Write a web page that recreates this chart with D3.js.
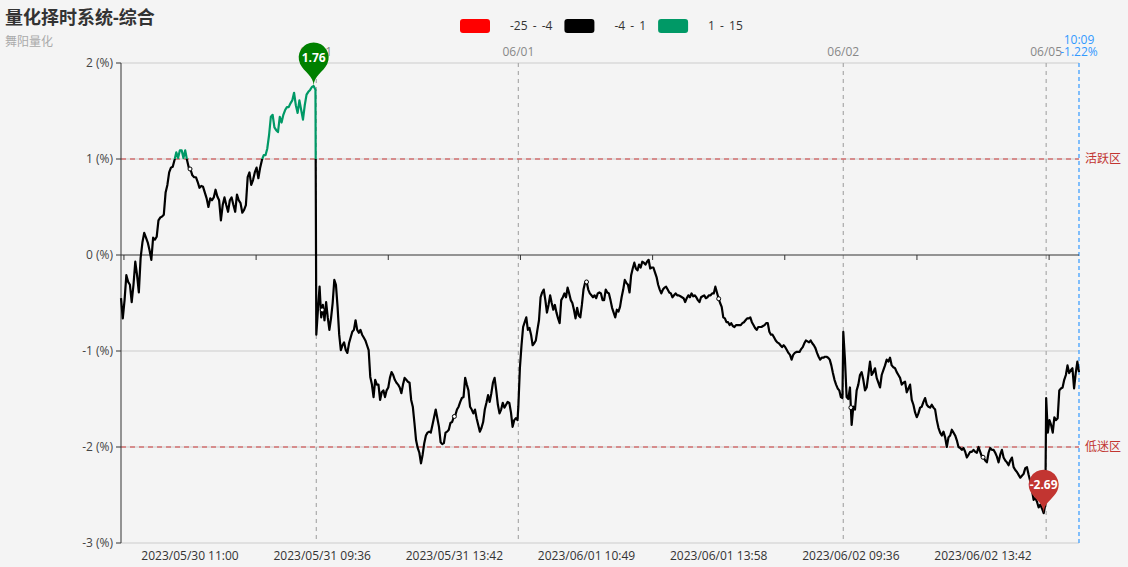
<!DOCTYPE html>
<html>
<head>
<meta charset="utf-8">
<script src="https://cdn.jsdelivr.net/npm/d3@7"></script>
<style>
  html, body { margin: 0; padding: 0; background: #f4f4f4; }
  svg { display: block; font-family: "Open Sans", "Noto Sans CJK SC", sans-serif; }
</style>
</head>
<body>
<svg id="chart" width="1128" height="567"></svg>
<script>
// trading days shown on the top axis, and how many minute points each day holds
const dayNames = ['05/30', '05/31', '06/01', '06/02', '06/05']
const dayCounts = [232, 240, 386, 241, 40]

// index values (%), one array per day
const day0530 = [-0.45, -0.66, -0.47, -0.21, -0.28, -0.31, -0.49, -0.31, -0.07, -0.21,
  -0.39, -0.03, 0.13, 0.23, 0.18, 0.13, 0.05, -0.05, 0.18, 0.16,
  0.19, 0.36, 0.39, 0.40, 0.42, 0.65, 0.73, 0.86, 0.91, 0.92,
  0.99, 1.07, 1.01, 1.09, 1.09, 1.01, 1.09, 0.99, 0.91, 0.89,
  0.83, 0.81, 0.81, 0.76, 0.70, 0.72, 0.71, 0.65, 0.59, 0.50,
  0.59, 0.57, 0.60, 0.68, 0.61, 0.57, 0.36, 0.52, 0.60, 0.52,
  0.45, 0.57, 0.60, 0.52, 0.45, 0.63, 0.57, 0.54, 0.44, 0.47,
  0.52, 0.81, 0.86, 0.73, 0.78, 0.86, 0.91, 0.80, 0.91, 0.99,
  1.04, 1.04, 1.11, 1.25, 1.44, 1.46, 1.33, 1.30, 1.28, 1.44,
  1.38, 1.46, 1.51, 1.54, 1.54, 1.58, 1.61, 1.69, 1.56, 1.48,
  1.61, 1.51, 1.41, 1.56, 1.67, 1.70, 1.72, 1.75, 1.76, 1.72]

const day0531 = [-0.83, -0.57, -0.33, -0.65, -0.52, -0.68, -0.49, -0.65, -0.78, -0.66,
  -0.50, -0.26, -0.31, -0.54, -0.83, -0.99, -0.94, -0.91, -0.99, -1.02,
  -0.92, -0.86, -0.80, -0.78, -0.68, -0.78, -0.81, -0.78, -0.83, -0.86,
  -0.89, -0.94, -0.99, -1.27, -1.35, -1.48, -1.30, -1.35, -1.35, -1.51,
  -1.43, -1.41, -1.48, -1.41, -1.38, -1.28, -1.22, -1.25, -1.30, -1.33,
  -1.35, -1.38, -1.44, -1.35, -1.28, -1.30, -1.32, -1.33, -1.51, -1.58,
  -1.75, -1.93, -2.01, -2.06, -2.17, -2.08, -1.96, -1.88, -1.85, -1.84,
  -1.85, -1.77, -1.69, -1.61, -1.70, -1.79, -1.95, -1.97, -1.96, -1.85,
  -1.84, -1.82, -1.75, -1.74, -1.69, -1.67, -1.61, -1.58, -1.53, -1.49,
  -1.48, -1.28, -1.35, -1.41, -1.58, -1.61, -1.65, -1.61, -1.70, -1.77,
  -1.84, -1.80, -1.74, -1.61, -1.54, -1.46, -1.53, -1.44, -1.33, -1.28,
  -1.41, -1.56, -1.65, -1.61, -1.54, -1.59, -1.56, -1.53, -1.54, -1.64,
  -1.79, -1.72, -1.70, -1.72]

const day0601 = [-1.58, -1.17, -0.94, -0.75, -0.70, -0.65, -0.78, -0.76, -0.83, -0.94,
  -0.92, -0.89, -0.78, -0.68, -0.44, -0.39, -0.36, -0.47, -0.60, -0.52,
  -0.42, -0.50, -0.57, -0.52, -0.60, -0.66, -0.71, -0.47, -0.44, -0.40,
  -0.44, -0.34, -0.40, -0.47, -0.50, -0.57, -0.66, -0.55, -0.63, -0.65,
  -0.52, -0.36, -0.29, -0.28, -0.36, -0.40, -0.42, -0.44, -0.42, -0.45,
  -0.40, -0.39, -0.40, -0.47, -0.47, -0.36, -0.39, -0.40, -0.47, -0.55,
  -0.60, -0.65, -0.57, -0.59, -0.54, -0.44, -0.36, -0.26, -0.29, -0.31,
  -0.39, -0.21, -0.14, -0.08, -0.14, -0.16, -0.10, -0.13, -0.07, -0.08,
  -0.10, -0.07, -0.05, -0.14, -0.13, -0.13, -0.18, -0.23, -0.31, -0.36,
  -0.40, -0.36, -0.34, -0.33, -0.36, -0.39, -0.40, -0.44, -0.42, -0.40,
  -0.42, -0.42, -0.43, -0.44, -0.45, -0.49, -0.45, -0.42, -0.44, -0.40,
  -0.43, -0.42, -0.44, -0.47, -0.49, -0.44, -0.43, -0.42, -0.45, -0.44,
  -0.42, -0.42, -0.40, -0.40, -0.33, -0.39, -0.45, -0.50, -0.54, -0.65,
  -0.66, -0.70, -0.70, -0.73, -0.71, -0.74, -0.75, -0.73, -0.73, -0.73,
  -0.73, -0.71, -0.70, -0.68, -0.66, -0.66, -0.65, -0.70, -0.73, -0.76,
  -0.78, -0.75, -0.75, -0.75, -0.74, -0.73, -0.71, -0.71, -0.80, -0.83,
  -0.83, -0.86, -0.89, -0.91, -0.92, -0.94, -0.96, -0.94, -0.96, -0.99,
  -1.02, -1.04, -1.09, -1.04, -1.02, -1.01, -1.01, -1.01, -0.98, -0.96,
  -0.92, -0.89, -0.90, -0.91, -0.89, -0.92, -0.94, -0.97, -1.02, -1.06,
  -1.09, -1.07, -1.07, -1.06, -1.06, -1.07, -1.09, -1.15, -1.23, -1.30,
  -1.35, -1.39, -1.41, -1.48, -1.49]

const day0602 = [-0.80, -1.09, -1.48, -1.50, -1.38, -1.77, -1.58, -1.61, -1.41, -1.35,
  -1.25, -1.22, -1.30, -1.41, -1.38, -1.25, -1.11, -1.25, -1.22, -1.18,
  -1.28, -1.33, -1.38, -1.25, -1.20, -1.15, -1.09, -1.11, -1.07, -1.15,
  -1.17, -1.18, -1.22, -1.25, -1.28, -1.35, -1.33, -1.32, -1.43, -1.39,
  -1.35, -1.51, -1.56, -1.64, -1.69, -1.65, -1.59, -1.58, -1.53, -1.49,
  -1.56, -1.58, -1.59, -1.56, -1.59, -1.61, -1.72, -1.80, -1.85, -1.88,
  -1.84, -1.90, -2.00, -1.90, -1.88, -1.82, -1.85, -1.88, -1.93, -2.00,
  -2.01, -2.03, -2.01, -2.05, -2.11, -2.08, -2.05, -2.05, -2.03, -2.05,
  -2.06, -2.00, -2.05, -2.10, -2.11, -2.14, -2.16, -2.06, -2.01, -2.03,
  -2.03, -2.06, -2.10, -2.16, -2.08, -2.03, -2.11, -2.14, -2.16, -2.19,
  -2.14, -2.11, -2.21, -2.24, -2.26, -2.29, -2.32, -2.30, -2.28, -2.22,
  -2.21, -2.29, -2.36, -2.45, -2.55, -2.53, -2.57, -2.63, -2.60, -2.64,
  -2.69, -2.60]

const day0605 = [-1.49, -1.85, -1.72, -1.77, -1.85, -1.69, -1.72, -1.70, -1.41, -1.39,
  -1.38, -1.30, -1.25, -1.15, -1.23, -1.20, -1.18, -1.39, -1.23, -1.11,
  -1.22]

const dayValues = [day0530, day0531, day0601, day0602, day0605]

// bottom axis labels: first label index and the step between labels
const xLabelTimes = ['2023/05/30 11:00', '2023/05/31 09:36', '2023/05/31 13:42',
  '2023/06/01 10:49', '2023/06/01 13:58', '2023/06/02 09:36', '2023/06/02 13:42']
const xLabelFirst = 82
const xLabelStep = 157
const lastTime = '10:09'

const yTicks = [2, 1, 0, -1, -2, -3]

// visualMap pieces
const pieces = [
  { min: 1, max: 15, color: '#009966' },
  { min: -4, max: 1, color: '#000000' },
  { min: -25, max: -4, color: '#ff0000' }
]
const legendPieces = [
  { label: '-25 - -4', color: '#ff0000' },
  { label: '-4 - 1', color: '#000000' },
  { label: '1 - 15', color: '#009966' }
]

const markLines = [
  { value: 1, label: '活跃区' },
  { value: -2, label: '低迷区' }
]

// ---------------------------------------------------------------

const svg = d3.select('#chart')
const W = 1128
const margin = { left: 121, right: 49, top: 63, bottom: 24 }
const plotRight = W - margin.right
const plotBottom = 567 - margin.bottom

const total = d3.sum(dayCounts)
const dayStarts = d3.cumsum([0].concat(dayCounts.slice(0, -1)))

// build points: spread each day's values over its minute slots
const points = []
dayValues.forEach((vals, d) => {
  const start = dayStarts[d]
  const span = dayCounts[d] - 1
  vals.forEach((v, j) => {
    points.push({ idx: start + j * span / (vals.length - 1), value: v })
  })
})

const x = d3.scaleLinear().domain([0, total - 1]).range([margin.left, plotRight])
const y = d3.scaleLinear().domain([-3, 2]).range([plotBottom, margin.top])

const colorOf = v => (pieces.find(p => v >= p.min && v <= p.max) || pieces[1]).color

// title
svg.append('text')
  .attr('x', 5).attr('y', 24)
  .attr('font-size', 18).attr('font-weight', 'bold').attr('fill', '#333')
  .text('量化择时系统-综合')
svg.append('text')
  .attr('x', 5).attr('y', 46)
  .attr('font-size', 12).attr('fill', '#aaa')
  .text('舞阳量化')

// legend (visualMap pieces)
const legend = svg.append('g').attr('transform', 'translate(460, 19)')
let lx = 0
legendPieces.forEach(p => {
  legend.append('rect')
    .attr('x', lx).attr('y', 0).attr('width', 30).attr('height', 14)
    .attr('rx', 3).attr('fill', p.color)
  const t = legend.append('text')
    .attr('x', lx + 50).attr('y', 7).attr('dy', '0.35em')
    .attr('font-size', 12).attr('fill', '#333')
    .attr('word-spacing', 2)
    .text(p.label)
  lx += 50 + t.node().getComputedTextLength() + 12
})

// horizontal grid
svg.append('g')
  .selectAll('line')
  .data(yTicks.filter(t => t !== 0))
  .enter()
  .append('line')
  .attr('x1', margin.left).attr('x2', plotRight)
  .attr('y1', d => y(d)).attr('y2', d => y(d))
  .attr('stroke', '#ccc').attr('stroke-width', 1)

// day separators (top axis split lines)
const dayIdx = dayStarts.slice(1)
svg.append('g')
  .selectAll('line')
  .data(dayIdx)
  .enter()
  .append('line')
  .attr('x1', d => x(d)).attr('x2', d => x(d))
  .attr('y1', margin.top).attr('y2', plotBottom)
  .attr('stroke', '#aaa').attr('stroke-width', 1.2)
  .attr('stroke-dasharray', '4,4')

// top day labels
svg.append('g')
  .selectAll('text')
  .data(dayIdx)
  .enter()
  .append('text')
  .attr('x', d => x(d)).attr('y', 52).attr('dy', '0.35em')
  .attr('text-anchor', 'middle').attr('font-size', 12).attr('fill', '#888')
  .text((d, i) => dayNames[i + 1])

// last point marker line
const lastPoint = points[points.length - 1]
svg.append('line')
  .attr('x1', x(lastPoint.idx)).attr('x2', x(lastPoint.idx))
  .attr('y1', margin.top).attr('y2', plotBottom)
  .attr('stroke', '#3399ff').attr('stroke-width', 1.2)
  .attr('stroke-dasharray', '4,3')
svg.append('text')
  .attr('x', x(lastPoint.idx)).attr('y', 40).attr('dy', '0.35em')
  .attr('text-anchor', 'middle').attr('font-size', 12).attr('fill', '#3399ff')
  .text(lastTime)
svg.append('text')
  .attr('x', x(lastPoint.idx)).attr('y', 52).attr('dy', '0.35em')
  .attr('text-anchor', 'middle').attr('font-size', 12).attr('fill', '#3399ff')
  .text(lastPoint.value.toFixed(2) + '%')

// mark lines
markLines.forEach(m => {
  svg.append('line')
    .attr('x1', margin.left).attr('x2', plotRight)
    .attr('y1', y(m.value)).attr('y2', y(m.value))
    .attr('stroke', '#d27070').attr('stroke-width', 1.5)
    .attr('stroke-dasharray', '5,4')
  svg.append('text')
    .attr('x', plotRight + 6).attr('y', y(m.value)).attr('dy', '0.35em')
    .attr('font-size', 12).attr('fill', '#c23531')
    .text(m.label)
})

// y axis
const yAxis = svg.append('g')
yAxis.append('line')
  .attr('x1', margin.left).attr('x2', margin.left)
  .attr('y1', margin.top).attr('y2', plotBottom)
  .attr('stroke', '#333')
yAxis.selectAll('.tick')
  .data(yTicks)
  .enter()
  .append('line')
  .attr('x1', margin.left - 5).attr('x2', margin.left)
  .attr('y1', d => y(d)).attr('y2', d => y(d))
  .attr('stroke', '#333')
yAxis.selectAll('text')
  .data(yTicks)
  .enter()
  .append('text')
  .attr('x', margin.left - 8).attr('y', d => y(d)).attr('dy', '0.35em')
  .attr('text-anchor', 'end').attr('font-size', 12).attr('fill', '#444')
  .text(d => d + ' (%)')

// x axis on zero, with ticks between labels
const labelIdx = xLabelTimes.map((t, i) => xLabelFirst + i * xLabelStep)
const tickIdx = labelIdx.map(i => i - xLabelStep / 2)
  .concat([labelIdx[labelIdx.length - 1] + xLabelStep / 2])
svg.append('line')
  .attr('x1', margin.left).attr('x2', plotRight)
  .attr('y1', y(0)).attr('y2', y(0))
  .attr('stroke', '#333')
svg.append('g')
  .selectAll('line')
  .data(tickIdx)
  .enter()
  .append('line')
  .attr('x1', d => x(d)).attr('x2', d => x(d))
  .attr('y1', y(0)).attr('y2', y(0) + 5)
  .attr('stroke', '#333')

// bottom time labels
svg.append('g')
  .selectAll('text')
  .data(labelIdx)
  .enter()
  .append('text')
  .attr('x', d => x(d)).attr('y', plotBottom + 13).attr('dy', '0.35em')
  .attr('text-anchor', 'middle').attr('font-size', 12).attr('fill', '#333')
  .text((d, i) => xLabelTimes[i])

// line colour by value (piecewise gradient along y)
const gy1 = y(d3.max(pieces, p => p.max))
const gy2 = y(d3.min(pieces, p => p.min))
const off = v => (y(v) - gy1) / (gy2 - gy1)
const grad = svg.append('defs').append('linearGradient')
  .attr('id', 'lineColor')
  .attr('gradientUnits', 'userSpaceOnUse')
  .attr('x1', 0).attr('x2', 0)
  .attr('y1', gy1).attr('y2', gy2)
pieces.forEach(p => {
  grad.append('stop').attr('offset', off(p.max)).attr('stop-color', p.color)
  grad.append('stop').attr('offset', off(p.min)).attr('stop-color', p.color)
})

const line = d3.line()
  .x(d => x(d.idx))
  .y(d => y(d.value))

svg.append('path')
  .datum(points)
  .attr('d', line)
  .attr('fill', 'none')
  .attr('stroke', 'url(#lineColor)')
  .attr('stroke-width', 2.2)
  .attr('stroke-linejoin', 'round')

// small hollow symbols at label positions
const bis = d3.bisector(d => d.idx).left
const valueAt = i => {
  const k = Math.max(1, Math.min(points.length - 1, bis(points, i)))
  const a = points[k - 1]
  const b = points[k]
  const t = (i - a.idx) / (b.idx - a.idx)
  return a.value + (b.value - a.value) * t
}
svg.append('g')
  .selectAll('circle')
  .data(labelIdx)
  .enter()
  .append('circle')
  .attr('cx', d => x(d)).attr('cy', d => y(valueAt(d)))
  .attr('r', 2)
  .attr('fill', '#fff')
  .attr('stroke', d => colorOf(valueAt(d)))
  .attr('stroke-width', 1)

// pins for max / min
function pinPath (px, py, size) {
  const w = size / 5 * 3
  const h = Math.max(w, size)
  const r = w / 2
  const dy = r * r / (h - r)
  const cy = py - h + r + dy
  const angle = Math.asin(dy / r)
  const dx = Math.cos(angle) * r
  const tanX = Math.sin(angle)
  const tanY = Math.cos(angle)
  const cpLen = r * 0.6
  const cpLen2 = r * 0.7
  const p = d3.path()
  p.moveTo(px - dx, cy + dy)
  p.arc(px, cy, r, Math.PI - angle, Math.PI * 2 + angle)
  p.bezierCurveTo(px + dx - tanX * cpLen, cy + dy + tanY * cpLen, px, py - cpLen2, px, py)
  p.bezierCurveTo(px, py - cpLen2, px - dx + tanX * cpLen, cy + dy + tanY * cpLen, px - dx, cy + dy)
  p.closePath()
  return { d: p.toString(), cy }
}

const maxPoint = points.reduce((a, b) => (b.value > a.value ? b : a))
const minPoint = points.reduce((a, b) => (b.value < a.value ? b : a))
const pins = [
  { point: maxPoint, color: '#008000' },
  { point: minPoint, color: '#c23531' }
]
pins.forEach(p => {
  const shape = pinPath(x(p.point.idx), y(p.point.value), 50)
  svg.append('path').attr('d', shape.d).attr('fill', p.color)
  svg.append('text')
    .attr('x', x(p.point.idx)).attr('y', shape.cy).attr('dy', '0.35em')
    .attr('text-anchor', 'middle').attr('font-size', 12)
    .attr('font-weight', 'bold').attr('fill', '#fff')
    .text(p.point.value.toFixed(2))
})
</script>
</body>
</html>
